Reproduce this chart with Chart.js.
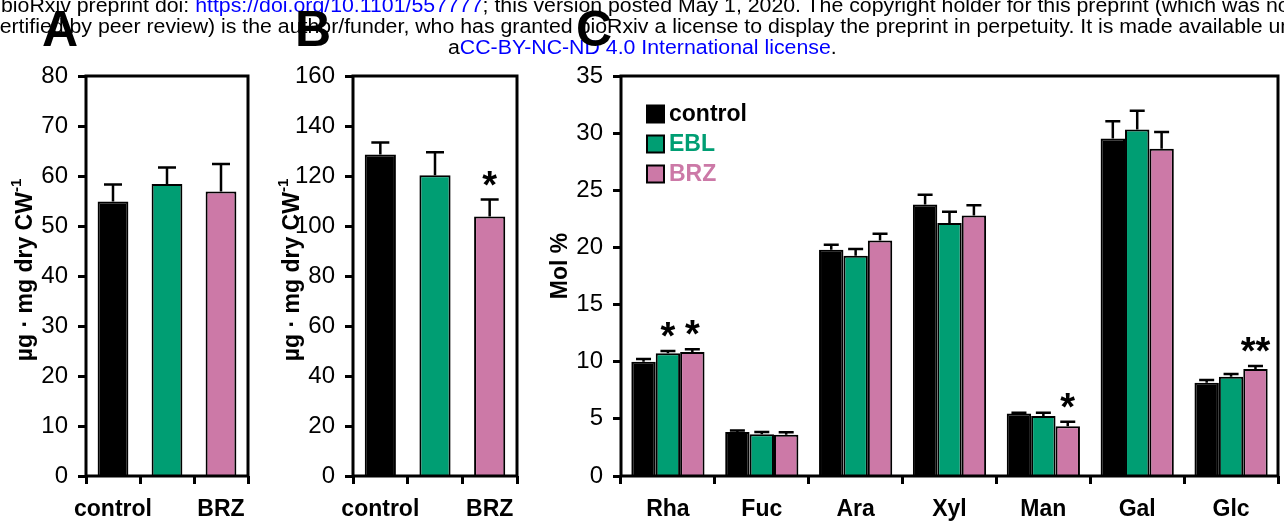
<!DOCTYPE html>
<html><head><meta charset="utf-8">
<script src="https://cdn.jsdelivr.net/npm/chart.js@4.4.0/dist/chart.umd.min.js"></script>
<style>
html,body{margin:0;padding:0;background:#fff;}
#page{position:relative;width:1284px;height:528px;overflow:hidden;font-family:"Liberation Sans",Arial,sans-serif;}
canvas{position:absolute;top:0;}
.hdr{position:absolute;white-space:nowrap;font-size:20px;line-height:20px;color:#000;transform-origin:0 0;transform:scaleX(1.065);}
.lnk{color:#0000ff;}
.panel{position:absolute;font-weight:bold;font-size:50px;line-height:50px;color:#000;}
</style></head><body>
<div id="page">
<canvas id="cA" width="270" height="528" style="left:0"></canvas>
<canvas id="cB" width="265" height="528" style="left:270px"></canvas>
<canvas id="cC" width="749" height="528" style="left:535px"></canvas>
<div class="hdr" style="left:1px;top:-5px">bioRxiv preprint doi: <span class="lnk">https://doi.org/10.1101/557777</span>; this version posted May 1, 2020. The copyright holder for this preprint (which was not</div>
<div class="hdr" style="left:-11px;top:16px">certified by peer review) is the author/funder, who has granted bioRxiv a license to display the preprint in perpetuity. It is made available under</div>
<div class="hdr" style="left:448px;top:37px">a<span class="lnk">CC-BY-NC-ND 4.0 International license</span>.</div>
<div class="panel" style="left:42px;top:4px">A</div>
<div class="panel" style="left:295px;top:4px">B</div>
<div class="panel" style="left:576px;top:4px">C</div>
</div>
<script>
// ---------- data ----------
const groupsAB = ['control', 'EBL', 'BRZ'];
const shownLabelsAB = ['control', '', 'BRZ'];
const panelA_values = [54.9, 58.4, 56.9];
const panelA_errors = [3.4, 3.3, 5.5];
const panelA_signif = ['', '', ''];
const panelB_values = [128.6, 120.3, 103.8];
const panelB_errors = [4.8, 9.2, 6.8];
const panelB_signif = ['', '', '*'];

const sugars = ['Rha', 'Fuc', 'Ara', 'Xyl', 'Man', 'Gal', 'Glc'];
const control_values = [10.0, 3.86, 19.8, 23.75, 5.47, 29.54, 8.16];
const control_errors = [0.24, 0.12, 0.44, 0.85, 0.06, 1.49, 0.23];
const control_signif = ['', '', '', '', '', '', ''];
const EBL_values = [10.74, 3.66, 19.27, 22.14, 5.24, 30.32, 8.68];
const EBL_errors = [0.2, 0.2, 0.59, 0.99, 0.29, 1.64, 0.24];
const EBL_signif = ['*', '', '', '', '', '', ''];
const BRZ_values = [10.85, 3.6, 20.6, 22.8, 4.36, 28.63, 9.36];
const BRZ_errors = [0.24, 0.23, 0.6, 0.9, 0.38, 1.46, 0.26];
const BRZ_signif = ['*', '', '', '', '*', '', '**'];

const ticksA = {min: 0, max: 80, step: 10};
const ticksB = {min: 0, max: 160, step: 20};
const ticksC = {min: 0, max: 35, step: 5};

const COLORS = {control: '#000000', EBL: '#009E73', BRZ: '#CC79A7'};
const FONT = '"Liberation Sans", Arial, sans-serif';

Chart.defaults.font.family = FONT;
Chart.defaults.color = '#000';

// ---------- decorations plugin ----------
const decor = {
  id: 'decor',
  afterDatasetsDraw(chart, args, o) {
    const ctx = chart.ctx, ys = chart.scales.y;
    ctx.save();
    chart.data.datasets.forEach((ds, di) => {
      const meta = chart.getDatasetMeta(di);
      meta.data.forEach((el, i) => {
        const v = ds.data[i], e = ds.errors[i];
        const yt = ys.getPixelForValue(v + e);
        ctx.strokeStyle = '#000';
        ctx.lineWidth = 2.5;
        ctx.beginPath();
        ctx.moveTo(el.x, el.y);
        ctx.lineTo(el.x, yt);
        ctx.moveTo(el.x - o.cap / 2, yt);
        ctx.lineTo(el.x + o.cap / 2, yt);
        ctx.stroke();
        const s = ds.signif && ds.signif[i];
        if (s) {
          ctx.font = 'bold 38px ' + FONT;
          ctx.textAlign = 'center';
          ctx.textBaseline = 'alphabetic';
          ctx.fillStyle = '#000';
          ctx.fillText(s, el.x, yt - 2);
        }
      });
    });
    ctx.restore();
  },
  afterDraw(chart, args, o) {
    const ctx = chart.ctx, a = chart.chartArea;
    ctx.save();
    // frame
    ctx.strokeStyle = '#000';
    ctx.lineWidth = 3;
    ctx.strokeRect(a.left, a.top, a.right - a.left, a.bottom - a.top);
    // y title
    const cy = (a.top + a.bottom) / 2 + o.titleShift;
    const cx = a.left - 60;
    ctx.translate(cx, cy);
    ctx.rotate(-Math.PI / 2);
    ctx.fillStyle = '#000';
    ctx.textBaseline = 'middle';
    ctx.textAlign = 'left';
    ctx.font = 'bold 23px ' + FONT;
    const wMain = ctx.measureText(o.title).width;
    let wSup = 0;
    if (o.sup) { ctx.font = 'bold 15px ' + FONT; wSup = ctx.measureText(o.sup).width; }
    const x0 = -(wMain + wSup) / 2;
    ctx.font = 'bold 23px ' + FONT;
    ctx.fillText(o.title, x0, 0);
    if (o.sup) { ctx.font = 'bold 15px ' + FONT; ctx.fillText(o.sup, x0 + wMain, -9); }
    ctx.restore();
    // legend
    if (o.legend) {
      ctx.save();
      ctx.font = 'bold 23px ' + FONT;
      ctx.textBaseline = 'middle';
      ctx.textAlign = 'left';
      chart.data.datasets.forEach((ds, i) => {
        const y = a.top + 38 + i * 30;
        const bx = a.left + 26;
        ctx.fillStyle = ds.backgroundColor;
        ctx.fillRect(bx, y - 8.5, 17, 17);
        ctx.strokeStyle = '#000';
        ctx.lineWidth = 2;
        ctx.strokeRect(bx, y - 8.5, 17, 17);
        ctx.fillStyle = ds.backgroundColor;
        ctx.fillText(ds.label, bx + 22, y + 1);
      });
      ctx.restore();
    }
  }
};

function makeChart(id, cfg) {
  return new Chart(document.getElementById(id), {
    type: 'bar',
    data: {labels: cfg.labels, datasets: cfg.datasets},
    options: {
      responsive: false,
      animation: false,
      events: [],
      layout: {padding: {top: 76, right: cfg.padRight, bottom: 0, left: 0}},
      datasets: {bar: {categoryPercentage: cfg.catPct, barPercentage: cfg.barPct, borderColor: '#000', borderWidth: 2}},
      plugins: {
        legend: {display: false},
        tooltip: {enabled: false},
        decor: {cap: cfg.cap, title: cfg.title, sup: cfg.sup, titleShift: cfg.titleShift, legend: cfg.legend}
      },
      scales: {
        x: {
          afterFit: s => { s.height = 52; },
          border: {display: false},
          grid: {drawOnChartArea: false, drawTicks: true, tickLength: 8, tickWidth: 3, color: '#000', offset: true},
          ticks: {font: {size: 23, weight: 'bold'}, padding: 12, maxRotation: 0, autoSkip: false,
                  callback: (v, i) => cfg.shown[i]}
        },
        y: {
          min: cfg.ticks.min, max: cfg.ticks.max,
          afterFit: s => { s.width = cfg.leftW; },
          border: {display: false},
          grid: {drawOnChartArea: false, drawTicks: true, tickLength: 8, tickWidth: 3, color: '#000'},
          ticks: {stepSize: cfg.ticks.step, font: {size: 24}, padding: 10}
        }
      }
    },
    plugins: [decor]
  });
}

makeChart('cA', {
  labels: groupsAB, shown: shownLabelsAB,
  datasets: [{label: 'A', data: panelA_values, errors: panelA_errors, signif: panelA_signif,
              backgroundColor: [COLORS.control, COLORS.EBL, COLORS.BRZ]}],
  catPct: 1, barPct: 0.57, cap: 18, ticks: ticksA, leftW: 86, padRight: 22,
  title: 'µg · mg dry CW', sup: '-1', titleShift: -6, legend: false
});
makeChart('cB', {
  labels: groupsAB, shown: shownLabelsAB,
  datasets: [{label: 'B', data: panelB_values, errors: panelB_errors, signif: panelB_signif,
              backgroundColor: [COLORS.control, COLORS.EBL, COLORS.BRZ]}],
  catPct: 1, barPct: 0.57, cap: 18, ticks: ticksB, leftW: 83, padRight: 18,
  title: 'µg · mg dry CW', sup: '-1', titleShift: -6, legend: false
});
makeChart('cC', {
  labels: sugars, shown: sugars,
  datasets: [
    {label: 'control', data: control_values, errors: control_errors, signif: control_signif, backgroundColor: COLORS.control},
    {label: 'EBL', data: EBL_values, errors: EBL_errors, signif: EBL_signif, backgroundColor: COLORS.EBL},
    {label: 'BRZ', data: BRZ_values, errors: BRZ_errors, signif: BRZ_signif, backgroundColor: COLORS.BRZ}
  ],
  catPct: 0.78, barPct: 1.0, cap: 15, ticks: ticksC, leftW: 86, padRight: 6,
  title: 'Mol %', sup: '', titleShift: -10, legend: true
});
</script>
</body></html>
